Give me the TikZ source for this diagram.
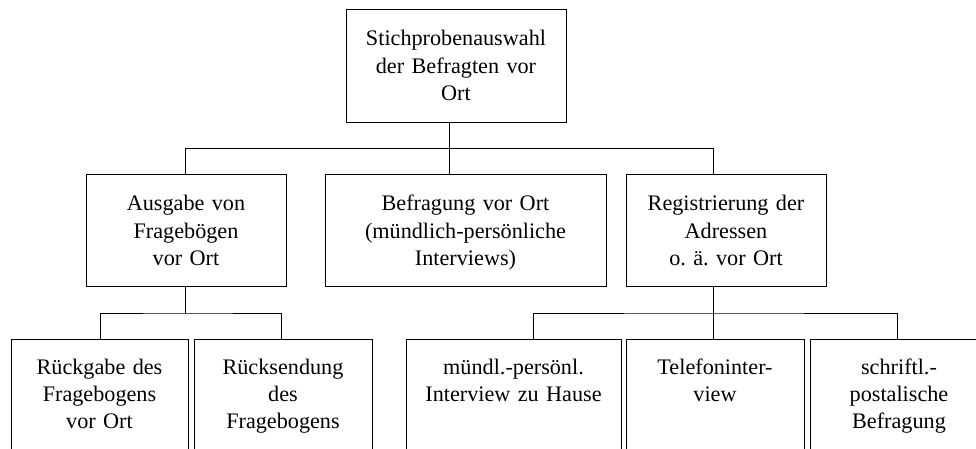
\documentclass[tikz,border=0pt]{standalone}
\usepackage{fontspec}
\setmainfont{Liberation Serif}
\frenchspacing
\begin{document}
\begin{tikzpicture}[x=1pt,y=-1pt,
  box/.style={draw=black, line width=0.9pt, rectangle, inner sep=0pt, outer sep=0pt},
  txt/.style={text width=300pt, align=center, anchor=base, inner sep=0pt,
    font=\fontsize{22.2}{27.4}\selectfont\frenchspacing},
  conn/.style={draw=black, line width=0.9pt}]
\useasboundingbox (0,0) rectangle (976,448);
% level 1
\node[box, minimum width=220pt, minimum height=113pt] (top) at (456,65.5) {};
% level 2
\node[box, minimum width=200pt, minimum height=112pt] (aus) at (186,230) {};
\node[box, minimum width=281pt, minimum height=112pt] (bef) at (465.5,230) {};
\node[box, minimum width=200pt, minimum height=112pt] (reg) at (726,230) {};
% level 3
\node[box, minimum width=177pt, minimum height=131pt] (b1) at (99.5,404.5) {};
\node[box, minimum width=178pt, minimum height=131pt] (b2) at (283,404.5) {};
\node[box, minimum width=215pt, minimum height=131pt] (b3) at (513.5,404.5) {};
\node[box, minimum width=178pt, minimum height=131pt] (b4) at (715,404.5) {};
\node[box, minimum width=178pt, minimum height=131pt] (b5) at (899,404.5) {};
% texts
\node[txt] (topT) at (456,45.7) {Stichprobenauswahl\\der Befragten vor\\Ort};
\node[txt] (ausT) at (186,210.7) {Ausgabe von\\Fragebögen\\vor Ort};
\node[txt] (befT) at (465.5,210.7) {Befragung vor Ort\\(mündlich-persönliche\\Interviews)};
\node[txt] (regT) at (726,210.7) {Registrierung der\\Adressen\\o. ä. vor Ort};
\node[txt] (b1T) at (99.5,374) {Rückgabe des\\Fragebogens\\vor Ort};
\node[txt] (b2T) at (283,374) {Rücksendung\\des\\Fragebogens};
\node[txt] (b3T) at (513.5,374) {mündl.-persönl.\\Interview zu Hause};
\node[txt] (b4T) at (715,374) {Telefoninter-\\view};
\node[txt] (b5T) at (899,374) {schriftl.-\\postalische\\Befragung};
% connector coordinates
\coordinate (xL) at (185,0);
\coordinate (xC) at (449,0);
\coordinate (xR) at (713,0);
\coordinate (j1) at (449,148);
\coordinate (j2) at (185,313);
\coordinate (j3) at (713,313);
\coordinate (xb1) at (100,0);
\coordinate (xb2) at (281,0);
\coordinate (xb3) at (533,0);
\coordinate (xb5) at (897,0);
% connectors
\draw[conn] (top.south -| xC) -- (bef.north -| xC);
\draw[conn] (aus.north -| xL) -- (xL |- j1) -- (xR |- j1) -- (reg.north -| xR);
\draw[conn] (aus.south -| xL) -- (j2);
\draw[conn] (b1.north -| xb1) |- (j2) -| (b2.north -| xb2);
\draw[conn] (reg.south -| xR) -- (b4.north -| xR);
\draw[conn] (b3.north -| xb3) |- (j3) -| (b5.north -| xb5);
\end{tikzpicture}
\end{document}
